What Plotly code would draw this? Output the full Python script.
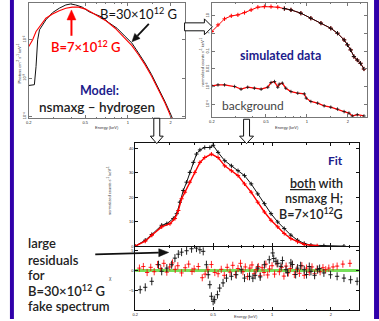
import math
import plotly.graph_objects as go

W, H = 379, 321
def px(x): return x / W
def py(y): return 1 - y / H

# ---------------- DATA ----------------
# Panel 1: nsmaxg hydrogen model spectra (photons cm^-2 s^-1 keV^-1)
model_E_b30 = [0.2, 0.219, 0.225, 0.231, 0.238, 0.264, 0.294, 0.328, 0.365, 0.395, 0.428, 0.477,
               0.531, 0.591, 0.658, 0.733, 0.838, 0.957, 1.067, 1.188, 1.32, 1.47, 1.64, 1.82, 1.98, 2.06]
model_F_b30 = [6.4e-4, 6.7e-4, 2.0e-3, 1.0e-2, 1.82e-2, 3.3e-2, 5.1e-2, 6.65e-2, 8.1e-2, 8.6e-2, 8.1e-2, 7.1e-2,
               5.4e-2, 4.5e-2, 3.9e-2, 2.8e-2, 2.0e-2, 1.22e-2, 8.2e-3, 4.5e-3, 2.47e-3, 1.23e-3, 5.6e-4, 2.5e-4, 1.26e-4, 8.9e-5]
model_E_b7 = [0.2, 0.213, 0.225, 0.238, 0.264, 0.294, 0.328, 0.365, 0.405, 0.45, 0.503, 0.56,
              0.623, 0.694, 0.813, 0.957, 1.067, 1.188, 1.32, 1.47, 1.64, 1.82, 1.98, 2.02]
model_F_b7 = [6.7e-3, 1.0e-2, 1.64e-2, 2.2e-2, 3.66e-2, 4.7e-2, 5.75e-2, 6.65e-2, 7.1e-2, 7.1e-2, 6.3e-2, 5.1e-2,
              4.0e-2, 3.2e-2, 2.0e-2, 1.1e-2, 7.0e-3, 4.07e-3, 2.24e-3, 1.12e-3, 5.2e-4, 2.3e-4, 1.12e-4, 8.9e-5]

# Panel 2: simulated data and background (normalized counts s^-1 keV^-1)
sim_E = [0.2, 0.222, 0.248, 0.278, 0.311, 0.348, 0.389, 0.436, 0.487, 0.545, 0.611, 0.683, 0.764,
         0.904, 1.07, 1.27, 1.5, 1.68, 1.88, 1.99, 2.1, 2.22, 2.35, 2.48, 2.63]
sim_counts = [1.3, 3.1, 6.8, 10, 11.4, 15.4, 21.8, 31, 33.5, 33.5, 31, 25.9, 21.8,
              14.2, 7.4, 3.9, 2.0, 1.05, 0.44, 0.23, 0.12, 0.05, 0.032, 0.021, 0.010]
bkg_E = [0.2, 0.222, 0.248, 0.294, 0.328, 0.367, 0.411, 0.461, 0.516, 0.545, 0.578, 0.611, 0.626, 0.66,
         0.70, 0.764, 0.857, 0.958, 0.99, 1.07, 1.2, 1.34, 1.5, 1.68, 1.88, 2.04, 2.16, 2.35, 2.63]
bkg_counts = [1.11e-3, 1.26e-3, 1.26e-3, 1.02e-3, 7.2e-4, 9.3e-4, 8.2e-4, 7.2e-4, 9.3e-4, 1.7e-3, 1.94e-3, 9.3e-4,
              1.38e-3, 1.58e-3, 8.2e-4, 5.3e-4, 4.3e-4, 3.9e-4, 2.24e-4, 1.45e-4, 1.17e-4, 8.3e-5, 6.9e-5,
              5.4e-5, 3.9e-5, 3.2e-5, 2.2e-5, 2.6e-5, 2.2e-5]

# Panel 3: fit (normalized counts s^-1 keV^-1) and residuals (chi)
fit_E_b30 = [0.2, 0.225, 0.243, 0.273, 0.29, 0.313, 0.326, 0.338, 0.352, 0.366, 0.38, 0.396, 0.411, 0.428,
             0.453, 0.481, 0.5, 0.53, 0.573, 0.62, 0.67, 0.723, 0.782, 0.845, 0.914, 0.988, 1.069, 1.154,
             1.248, 1.35, 1.46, 1.58, 1.84, 2.33]
fit_counts_b30 = [0, 2.44, 4.76, 8.54, 9.2, 11.3, 13.3, 18.0, 22.8, 26.2, 30.2, 34.3, 37.7, 39.4,
                  40.4, 40.4, 41.3, 38.4, 35.0, 32.9, 30.9, 28.9, 25.5, 21.4, 17.4, 13.3, 9.9, 7.2,
                  4.5, 2.44, 1.1, 0.4, 0.15, 0.0]
fit_E_b7 = [0.2, 0.225, 0.243, 0.273, 0.301, 0.319, 0.332, 0.345, 0.359, 0.38, 0.403, 0.428, 0.453, 0.49,
            0.53, 0.573, 0.62, 0.67, 0.723, 0.782, 0.845, 0.914, 0.988, 1.069, 1.154, 1.248, 1.35, 1.46, 1.7]
fit_counts_b7 = [0, 2.03, 4.47, 7.9, 9.2, 11.3, 14.6, 19.4, 22.1, 26.2, 30.2, 34.3, 36.3, 37.7,
                 36.3, 32.9, 30.9, 28.9, 25.5, 22.1, 18.0, 14.0, 10.6, 7.9, 5.2, 3.1, 1.8, 0.7, 0.15]

res_E_b30 = [0.212, 0.225, 0.243, 0.263, 0.273, 0.29, 0.307, 0.319, 0.332, 0.345, 0.366, 0.388, 0.411,
             0.428, 0.445, 0.462, 0.472, 0.481, 0.49, 0.5, 0.509, 0.526, 0.54, 0.562, 0.585, 0.62, 0.656,
             0.696, 0.723, 0.767, 0.798, 0.82, 0.845, 0.87, 0.914, 0.968, 1.008, 1.02, 1.047, 1.07, 1.11,
             1.13, 1.178, 1.2, 1.248, 1.27, 1.32, 1.35, 1.4, 1.46, 1.5, 1.55, 1.58, 1.65, 1.71, 1.75,
             1.84, 1.99, 2.15, 2.33, 2.52, 2.72]
res_b30 = [-4.8, -4.2, -2.7, 1.45, -0.2, 0.6, 1.45, 3.1, 4.1, 4.6, 4.95, 5.45, 5.6,
           5.2, 4.8, 1.45, -1.05, -3.55, -6.45, -7.7, -7.3, -6.05, -4.4, -3.1, -1.9, -1.45, -1.05,
           0.2, -1.9, -1.45, -1.9, -1.2, 0.6, -1.6, 1.45, 2.7, 4.4, 3.0, 2.3, 1.8, 1.05,
           2.5, 0.2, -0.5, 1.9, 1.5, -1.0, 0.6, 1.2, 0.2, -1.0, 1.0, -0.2, -1.2, 0.2, 0.5,
           -0.6, -1.05, -1.45, -1.9, -2.3, -2.7]
res_E_b7 = [0.21, 0.22, 0.23, 0.24, 0.25, 0.26, 0.27, 0.28, 0.29, 0.30, 0.31, 0.32, 0.33, 0.345, 0.36,
            0.375, 0.39, 0.40, 0.42, 0.44, 0.455, 0.47, 0.49, 0.51, 0.53, 0.55, 0.57, 0.59, 0.61, 0.63,
            0.65, 0.67, 0.69, 0.71, 0.73, 0.75, 0.77, 0.79, 0.81, 0.83, 0.85, 0.87, 0.89, 0.91, 0.93,
            0.95, 0.97, 1.0, 1.03, 1.06, 1.09, 1.12, 1.15, 1.18, 1.21, 1.24, 1.27, 1.30, 1.34, 1.38,
            1.42, 1.46, 1.50, 1.55, 1.60, 1.65, 1.70, 1.76, 1.82, 1.88, 1.95, 2.05, 2.15, 2.3, 2.5]
res_b7 = [0.6, 1.0, -0.5, 0.8, -0.3, 1.5, 0.5, 1.8, -0.4, 0.9, 1.9, 0.3, 1.2, -0.6, 0.7,
          1.6, -0.2, 0.4, 1.0, -1.8, -0.9, 0.2, 1.5, -0.5, -0.8, 0.3, -1.2, 0.8, -0.4, 1.3,
          -1.0, 0.5, 1.8, -0.3, 0.9, -1.5, 0.6, 1.4, -0.8, 0.2, 1.0, -1.3, 0.7, -0.5, 1.6,
          -1.1, 0.4, 1.2, -0.9, 1.7, -0.3, 0.8, -1.4, 1.1, -0.6, 0.5, 1.5, -1.0, 0.3, -0.7,
          1.2, -1.2, 0.6, -0.4, 0.9, -0.8, 0.4, -0.3, 0.7, 0.2, 0.6, 0.9, 1.1, 1.6, 1.8]

energy_ticks = [0.2, 0.5, 1, 2]
energy_ticktext = ["0.2", "0.5", "1", "2"]
energy_minor = [0.3, 0.4, 0.6, 0.7, 0.8, 0.9, 1.5, 2.5]

# ---------------- FIGURE ----------------
fig = go.Figure()

# Panel 1
fig.add_trace(go.Scatter(x=model_E_b30, y=model_F_b30, mode="lines", line=dict(color="#111", width=1), xaxis="x", yaxis="y"))
fig.add_trace(go.Scatter(x=model_E_b7, y=model_F_b7, mode="lines", line=dict(color="#ff0000", width=1.1), xaxis="x", yaxis="y"))

# Panel 2
fig.add_trace(go.Scatter(x=sim_E, y=sim_counts, mode="lines+markers", line=dict(color="#ff0000", width=1),
                         marker=dict(symbol="cross-thin", size=3, line=dict(color="#ff0000", width=1)), xaxis="x2", yaxis="y2"))
sim_E_hi = [e for e in sim_E if e >= 0.68]
sim_counts_hi = [c for e, c in zip(sim_E, sim_counts) if e >= 0.68]
fig.add_trace(go.Scatter(x=sim_E_hi, y=sim_counts_hi, mode="lines+markers", line=dict(color="#111", width=1),
                         marker=dict(symbol="cross-thin", size=3, line=dict(color="#111", width=1)), xaxis="x2", yaxis="y2"))
fig.add_trace(go.Scatter(x=bkg_E, y=bkg_counts, mode="lines+markers", line=dict(color="#ff0000", width=1.3),
                         marker=dict(symbol="cross-thin", size=2.5, line=dict(color="#111", width=0.8)), xaxis="x2", yaxis="y2"))

# Panel 3 main
fig.add_trace(go.Scatter(x=fit_E_b30, y=fit_counts_b30, mode="lines+markers", line=dict(color="#111", width=1),
                         marker=dict(symbol="cross-thin", size=3, line=dict(color="#111", width=1)), xaxis="x3", yaxis="y3"))
fig.add_trace(go.Scatter(x=fit_E_b7, y=fit_counts_b7, mode="lines+markers", line=dict(color="#ff0000", width=1.4),
                         marker=dict(symbol="cross-thin", size=3, line=dict(color="#ff0000", width=1)), xaxis="x3", yaxis="y3"))

# Residuals
fig.add_trace(go.Scatter(x=res_E_b7, y=res_b7, mode="markers", marker=dict(color="#ff0000", size=1),
                         error_y=dict(type="constant", value=0.9, color="rgba(255,0,0,0.85)", thickness=1, width=0),
                         error_x=dict(type="percent", value=2.5, color="rgba(255,0,0,0.85)", thickness=1, width=0),
                         xaxis="x4", yaxis="y4"))
fig.add_trace(go.Scatter(x=res_E_b30, y=res_b30, mode="markers", marker=dict(color="#111", size=1),
                         error_y=dict(type="constant", value=1.0, color="#222", thickness=1, width=0),
                         error_x=dict(type="percent", value=2.5, color="#222", thickness=1, width=0),
                         xaxis="x4", yaxis="y4"))

tickfont = dict(size=4, family="Liberation Sans", color="#222")

def xax(dom, anchor, rng_hi, color, labels=True):
    return dict(domain=dom, anchor=anchor, type="log", range=[math.log10(0.2), math.log10(rng_hi)],
                tickvals=energy_ticks, ticktext=energy_ticktext, ticks="inside", ticklen=3, tickcolor=color,
                showline=True, linecolor=color, linewidth=1, mirror="ticks", showgrid=False, zeroline=False,
                tickfont=tickfont, showticklabels=labels,
                minor=dict(ticks="inside", ticklen=1.5, tickvals=energy_minor, tickcolor=color, showgrid=False))

def yax(dom, anchor, color, **kw):
    d = dict(domain=dom, anchor=anchor, ticks="inside", ticklen=3, tickcolor=color, showline=True, linecolor=color,
             linewidth=1, mirror="ticks", showgrid=False, zeroline=False, tickfont=tickfont)
    d.update(kw)
    return d

fig.update_layout(
    width=W, height=H, margin=dict(l=0, r=0, t=0, b=0), paper_bgcolor="white", plot_bgcolor="white",
    showlegend=False,
    xaxis=xax([px(26), px(183)], "y", 2.51, "#777"),
    yaxis=yax([py(119), py(3)], "x", "#777", type="log", range=[-4.05, -1.04], tickvals=[1e-2, 1e-3, 1e-4],
              ticktext=["10⁻²", "10⁻³", "10⁻⁴"], tickangle=-90),
    xaxis2=xax([px(210.5), px(366.7)], "y2", 2.76, "#777"),
    yaxis2=yax([py(118), py(3)], "x2", "#777", type="log", range=[-4.73, 1.73],
               tickvals=[10, 1, 0.1, 0.01, 1e-3, 1e-4], ticktext=["10", "1", "0.1", "0.01", "10⁻³", "10⁻⁴"], tickangle=-90),
    xaxis3=xax([px(133.3), px(358.5)], "y3", 2.77, "#111", labels=False),
    yaxis3=yax([py(247.7), py(144)], "x3", "#111", range=[0, 42.2], tickvals=[0, 10, 20, 30, 40]),
    xaxis4=xax([px(133.3), px(358.5)], "y4", 2.77, "#111"),
    yaxis4=yax([py(312), py(248.5)], "x4", "#111", range=[-9.9, 5.9], tickvals=[-5, 0, 5]),
)

shapes = []
# purple slide bars
shapes.append(dict(type="rect", xref="paper", yref="paper", x0=px(7), x1=px(11), y0=0, y1=1, fillcolor="#3000aa", line=dict(width=0), layer="above"))
shapes.append(dict(type="rect", xref="paper", yref="paper", x0=px(374), x1=1, y0=0, y1=1, fillcolor="#3000aa", line=dict(width=0), layer="above"))
# green zero line in residuals
shapes.append(dict(type="line", xref="x4 domain", yref="y4", x0=0, x1=1, y0=0, y1=0, line=dict(color="#77e05a", width=3), layer="below"))

def path(pts):
    return "M " + " L ".join(f"{px(a):.5f},{py(b):.5f}" for a, b in pts) + " Z"

hollow = dict(type="path", xref="paper", yref="paper", fillcolor="white", line=dict(color="#111", width=1), layer="above")
shapes.append(dict(hollow, path=path([(183, 23), (203, 23), (203, 19), (211, 27), (203, 35), (203, 31), (183, 31)])))
shapes.append(dict(hollow, path=path([(152, 119), (158, 119), (158, 137), (161.5, 137), (155, 144.5), (148.5, 137), (152, 137)])))
shapes.append(dict(hollow, path=path([(242.5, 120), (248.5, 120), (248.5, 137), (252.5, 137), (245.5, 144.5), (238.5, 137), (242.5, 137)])))

# solid pointer arrows (shaft + filled head)
def solid_arrow(tail, base, head_pts, color, width):
    shapes.append(dict(type="line", xref="paper", yref="paper", x0=px(tail[0]), y0=py(tail[1]), x1=px(base[0]), y1=py(base[1]),
                       line=dict(color=color, width=width), layer="above"))
    shapes.append(dict(type="path", xref="paper", yref="paper", path=path(head_pts), fillcolor=color,
                       line=dict(color=color, width=0.5), layer="above"))

solid_arrow((69, 36), (69, 19), [(64.5, 20), (73.5, 20), (69, 10)], "#ff0000", 2)
solid_arrow((147, 24), (135.5, 36.2), [(138.2, 38.7), (132.8, 33.6), (130, 42)], "#111", 1.8)
solid_arrow((93, 256), (157, 254.3), [(157, 250.3), (157, 258.3), (167, 254)], "#111", 1.8)
fig.update_layout(shapes=shapes)

FONT = "Lato"
NAVY = "#1c1c8c"
ann = []
def text(t, x, y, size, color="#222", anchor="center", weight="normal", angle=0, family=FONT):
    ann.append(dict(text=t, xref="paper", yref="paper", x=px(x), y=py(y), xanchor=anchor, yanchor="middle",
                    showarrow=False, textangle=angle, font=dict(size=size, color=color, family=family, weight=weight)))

# panel 1 texts
text("B=30×10<sup>12</sup> G", 137, 14, 13, "#111")
text("B=7×10<sup>12</sup> G", 83, 47, 13, "#ff0000", weight=600)
text("Model:", 97, 91, 12.5, NAVY, weight="bold")
text("nsmaxg – hydrogen", 95, 108, 13.5, "#222", weight=600)
# panel 2 texts
text("simulated data", 280, 56, 12.5, NAVY, weight="bold")
text("background", 252, 106, 12, "#444")
# panel 3 texts
text("Fit", 345, 162, 12, NAVY, anchor="right", weight="bold")
text("<u>both</u> with", 345, 185, 12.5, "#222", anchor="right", weight=600)
text("nsmaxg H;", 345, 200, 12.5, "#222", anchor="right", weight=600)
text("B=7×10<sup>12</sup>G", 345, 215, 12.5, "#222", anchor="right", weight=600)
# left text
for t, y in [("large", 245), ("residuals", 261.5), ("for", 277), ("B=30×10<sup>12</sup> G", 292.5), ("fake spectrum", 308)]:
    text(t, 23, y, 13, "#222", anchor="left", weight=600)

# axis titles (tiny)
small = "Liberation Sans"
text("Energy (keV)", 105, 128.5, 4, "#333", family=small)
text("Energy (keV)", 286, 128.5, 4, "#333", family=small)
text("Energy (keV)", 245, 318.5, 4, "#333", family=small)
text("Photons cm<sup>-2</sup> s<sup>-1</sup> keV<sup>-1</sup>", 16, 64, 4, "#333", angle=-90, family=small)
text("normalized counts s<sup>-1</sup> keV<sup>-1</sup>", 200.5, 62, 4, "#333", angle=-90, family=small)
text("normalized counts s<sup>-1</sup> keV<sup>-1</sup>", 107, 192, 4, "#333", angle=-90, family=small)
text("χ", 108, 280, 4.5, "#333", family=small)
fig.update_layout(annotations=ann)

fig.write_html("out.html", config={"displayModeBar": False},
               post_script="document.body.style.margin='0px';")
